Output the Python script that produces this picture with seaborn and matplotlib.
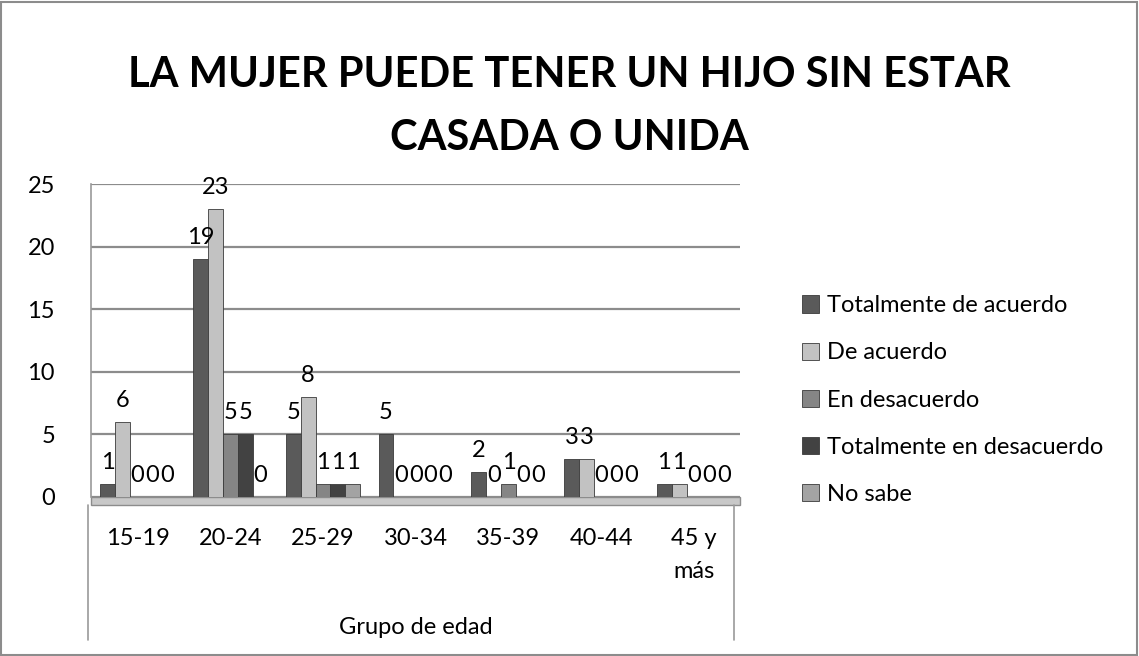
import matplotlib
matplotlib.use("Agg")
import matplotlib.pyplot as plt
import seaborn as sns
import pandas as pd
from matplotlib.patches import Rectangle
from matplotlib.lines import Line2D

groups = ["15-19", "20-24", "25-29", "30-34", "35-39", "40-44", "45 y\nmás"]
series = ["Totalmente de acuerdo", "De acuerdo", "En desacuerdo",
          "Totalmente en desacuerdo", "No sabe"]
totalmente_de_acuerdo = [1, 19, 5, 5, 2, 3, 1]
de_acuerdo = [6, 23, 8, 0, 0, 3, 1]
en_desacuerdo = [0, 5, 1, 0, 1, 0, 0]
totalmente_en_desacuerdo = [0, 5, 1, 0, 0, 0, 0]
no_sabe = [0, 0, 1, 0, 0, 0, 0]
colors = ["#5a5a5a", "#c2c2c2", "#858585", "#424242", "#a3a3a3"]

values = [totalmente_de_acuerdo, de_acuerdo, en_desacuerdo,
          totalmente_en_desacuerdo, no_sabe]
rows = []
for s, vals in zip(series, values):
    for g, v in zip(groups, vals):
        rows.append({"Grupo": g, "Serie": s, "Valor": v})
df = pd.DataFrame(rows)

sns.set_theme(style="white")
plt.rcParams["font.family"] = ["Lato", "DejaVu Sans"]
plt.rcParams["text.color"] = "black"

fig = plt.figure(figsize=(11.39, 6.56), dpi=100)
ax = fig.add_axes([0.080, 0.2424, 0.570, 0.477])

sns.barplot(data=df, x="Grupo", y="Valor", hue="Serie", hue_order=series,
            order=groups, palette=colors, width=0.8, ax=ax,
            edgecolor="#3a3a3a", linewidth=0.6, legend=True)

for cont in ax.containers:
    ax.bar_label(cont, fmt="%g", padding=8, fontsize=17, color="black")

ax.set_ylim(0, 25)
ax.set_yticks([0, 5, 10, 15, 20, 25])
ax.yaxis.grid(True, color="#8c8c8c", linewidth=1.6)
ax.set_axisbelow(True)
for side in ["top", "right", "bottom"]:
    ax.spines[side].set_visible(False)
ax.spines["left"].set_color("#9a9a9a")
ax.spines["left"].set_linewidth(1.2)
ax.tick_params(axis="y", length=0, pad=26, labelsize=17, colors="black")
ax.tick_params(axis="x", length=0, pad=22, labelsize=17, colors="black")
for lbl in ax.get_xticklabels():
    lbl.set_linespacing(1.75)
ax.set_xlabel("Grupo de edad", fontsize=17, labelpad=25, color="black")
ax.set_ylabel("")

# floor
ax.add_patch(Rectangle((0, -0.025), 1, 0.025, transform=ax.transAxes,
                       facecolor="#c8c8c8", edgecolor="#8c8c8c",
                       linewidth=1, clip_on=False, zorder=0))

# category axis box lines
for xf in [88 / 1139, 734 / 1139]:
    fig.add_artist(Line2D([xf, xf], [1 - 505 / 656, 1 - 640 / 656],
                          color="#9a9a9a", linewidth=1.2))

leg = ax.legend(loc="upper left", bbox_to_anchor=(1.08, 0.675),
                frameon=False, fontsize=17, handlelength=0.75,
                handleheight=0.75, handletextpad=0.3, labelspacing=1.11,
                borderaxespad=0, labelcolor="black")

fig.text(0.5, 0.838, "LA MUJER PUEDE TENER UN HIJO SIN ESTAR\nCASADA O UNIDA",
         ha="center", va="center", fontsize=30, fontweight="bold",
         linespacing=1.8, color="black")

fig.add_artist(Rectangle((0.001, 0.002), 0.997, 0.995,
                         transform=fig.transFigure, fill=False,
                         edgecolor="#8c8c8c", linewidth=1.5))

fig.savefig("out.png", dpi=100, facecolor="white")
